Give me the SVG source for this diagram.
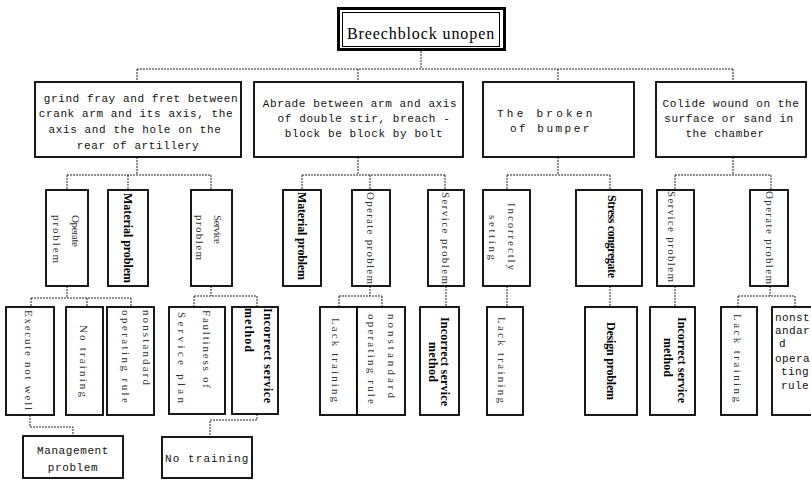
<svg xmlns="http://www.w3.org/2000/svg" width="811" height="481" viewBox="0 0 811 481">
<style>
rect.b{fill:#fff;stroke:#000;stroke-width:1.8}
.c{fill:none;stroke:#222;stroke-width:1;stroke-dasharray:2 1}
.m{font-family:"Liberation Mono","DejaVu Sans Mono",monospace;font-size:11px;letter-spacing:0.6px;fill:#111;text-anchor:middle}
.ms{font-family:"Liberation Mono","DejaVu Sans Mono",monospace;font-size:11px;letter-spacing:0.4px;fill:#111}
.v{font-family:"Liberation Serif","Times New Roman",serif;font-size:11px;fill:#333;dominant-baseline:central}
.vb{font-family:"Liberation Serif","Times New Roman",serif;font-size:12px;font-weight:bold;fill:#000;dominant-baseline:central}
.t{font-family:"Liberation Serif","Times New Roman",serif;font-size:16px;letter-spacing:0.9px;fill:#000;text-anchor:middle}
</style>
<rect width="811" height="481" fill="#fff"/>
<g id="connectors">
<path class="c" d="M421 51V69M137 69H733M137 69V82M358 69V82M558 69V82M733 69V82"/>
<path class="c" d="M137 157V175M67 175H211M67 175V190M128 175V190M211 175V190"/>
<path class="c" d="M358 157V175M302 175H445M302 175V190M370 175V190M445 175V190"/>
<path class="c" d="M558 157V175M507 175H610M507 175V190M610 175V190"/>
<path class="c" d="M733 157V175M675 175H771M675 175V190M771 175V190"/>
<path class="c" d="M67 286V298M31 298H131M31 298V307M87 298V307M131 298V307"/>
<path class="c" d="M211 286V296M194 296H257M194 296V307M257 296V307"/>
<path class="c" d="M370 286V296M339 296H382M339 296V307M382 296V307"/>
<path class="c" d="M446 286V307M507 286V307M610 286V307M675 286V307"/>
<path class="c" d="M770 286V296M738 296H795M738 296V307M795 296V307"/>
<path class="c" d="M30 415V427H73V436"/>
<path class="c" d="M257 414V420H210V437"/>
</g>
<g id="root">
<rect x="338.5" y="8.5" width="166" height="41" fill="#fff" stroke="#000" stroke-width="3"/>
<rect x="342.5" y="12.5" width="157" height="34" fill="none" stroke="#000" stroke-width="1"/>
<text class="t" x="421" y="38.5">Breechblock unopen</text>
</g>
<g id="n1">
<rect class="b" x="35" y="82" width="206" height="75"/>
<text class="m" x="141" y="101.5">grind fray and fret between</text>
<text class="m" x="136" y="117">crank arm and its axis, the</text>
<text class="m" x="135" y="132.5">axis and the hole on the</text>
<text class="m" x="138" y="148.5">rear of artillery</text>
</g>
<g id="n2">
<rect class="b" x="254" y="82" width="209" height="75"/>
<text class="m" x="360" y="107">Abrade between arm and axis</text>
<text class="m" x="364" y="122">of double stir, breach -</text>
<text class="m" x="364" y="137">block be block by bolt</text>
</g>
<g id="n3">
<rect class="b" x="483" y="82" width="151" height="75"/>
<text class="m" x="545" y="116.5" textLength="96">The broken</text>
<text class="m" x="550" y="131.5" textLength="80">of bumper</text>
</g>
<g id="n4">
<rect class="b" x="656" y="82" width="150" height="75"/>
<text class="m" x="731" y="107">Colide wound on the</text>
<text class="m" x="729" y="122">surface or sand in</text>
<text class="m" x="725" y="137">the chamber</text>
</g>
<g id="a1">
<rect class="b" x="46" y="190" width="42" height="96"/>
<text class="v" transform="translate(76,215) rotate(90)" textLength="32">Operate</text>
<text class="v" transform="translate(57,215) rotate(90)" textLength="48">problem</text>
</g>
<g id="a2">
<rect class="b" x="108" y="190" width="40" height="96"/>
<text class="vb" transform="translate(128,193) rotate(90)" textLength="90">Material problem</text>
</g>
<g id="a3">
<rect class="b" x="191" y="190" width="41" height="96"/>
<text class="v" transform="translate(218,215) rotate(90)" textLength="29">Service</text>
<text class="v" transform="translate(200,215) rotate(90)" textLength="45">problem</text>
</g>
<g id="b1">
<rect class="b" x="283" y="190" width="38" height="96"/>
<text class="vb" transform="translate(302,192) rotate(90)" textLength="88">Material problem</text>
</g>
<g id="b2">
<rect class="b" x="352" y="190" width="38" height="96"/>
<text class="v" transform="translate(371,192) rotate(90)" textLength="92">Operate problem</text>
</g>
<g id="b3">
<rect class="b" x="428" y="190" width="36" height="96"/>
<text class="v" transform="translate(446,192) rotate(90)" textLength="92">Service problem</text>
</g>
<g id="c1">
<rect class="b" x="483" y="190" width="47" height="96"/>
<text class="v" transform="translate(512,203) rotate(90)" textLength="67">Incorrectly</text>
<text class="v" transform="translate(493,215) rotate(90)" textLength="45">setting</text>
</g>
<g id="c2">
<rect class="b" x="576" y="190" width="66" height="96"/>
<text class="vb" transform="translate(612,195) rotate(90)" textLength="83">Stress congregate</text>
</g>
<g id="d1">
<rect class="b" x="657" y="190" width="37" height="96"/>
<text class="v" transform="translate(672,191) rotate(90)" textLength="91">Service problem</text>
</g>
<g id="d2">
<rect class="b" x="750" y="190" width="38" height="96"/>
<text class="v" transform="translate(770,191) rotate(90)" textLength="93">Operate problem</text>
</g>
<g id="e1">
<rect class="b" x="6" y="307" width="48" height="108"/>
<text class="v" transform="translate(29,310) rotate(90)" textLength="100">Execute not well</text>
</g>
<g id="e2">
<rect class="b" x="66" y="307" width="37" height="108"/>
<text class="v" transform="translate(84,325) rotate(90)" textLength="72">No training</text>
</g>
<g id="e3">
<rect class="b" x="107" y="307" width="47" height="108"/>
<text class="v" transform="translate(147,310) rotate(90)" textLength="75">nonstandard</text>
<text class="v" transform="translate(126,310) rotate(90)" textLength="93">operating rule</text>
</g>
<g id="f1">
<rect class="b" x="169" y="307" width="56" height="107"/>
<text class="v" transform="translate(207,310) rotate(90)" textLength="78">Faultiness of</text>
<text class="v" transform="translate(182,312) rotate(90)" textLength="91">Service plan</text>
</g>
<g id="f2">
<rect class="b" x="232" y="307" width="46" height="107"/>
<text class="vb" transform="translate(268,308) rotate(90)" textLength="95">Incorrect service</text>
<text class="vb" transform="translate(249,308) rotate(90)" textLength="44">method</text>
</g>
<g id="g1">
<rect class="b" x="320" y="307" width="37" height="108"/>
<text class="v" transform="translate(336,318) rotate(90)" textLength="84">Lack training</text>
</g>
<g id="g2">
<rect class="b" x="357" y="307" width="48" height="108"/>
<text class="v" transform="translate(392,314) rotate(90)" textLength="84">nonstandard</text>
<text class="v" transform="translate(372,314) rotate(90)" textLength="90">operating rule</text>
</g>
<g id="h1">
<rect class="b" x="420" y="307" width="39" height="108"/>
<text class="vb" transform="translate(445,317) rotate(90)" textLength="89">Incorrect service</text>
<text class="vb" transform="translate(433,342) rotate(90)" textLength="40">method</text>
</g>
<g id="i1">
<rect class="b" x="487" y="307" width="36" height="108"/>
<text class="v" transform="translate(502,317) rotate(90)" textLength="86">Lack training</text>
</g>
<g id="j1">
<rect class="b" x="585" y="307" width="52" height="108"/>
<text class="vb" transform="translate(611,322) rotate(90)" textLength="78">Design problem</text>
</g>
<g id="k1">
<rect class="b" x="650" y="307" width="45" height="108"/>
<text class="vb" transform="translate(682,317) rotate(90)" textLength="86">Incorrect service</text>
<text class="vb" transform="translate(668,338) rotate(90)" textLength="39">method</text>
</g>
<g id="l1">
<rect class="b" x="721" y="307" width="36" height="108"/>
<text class="v" transform="translate(738,314) rotate(90)" textLength="88">Lack training</text>
</g>
<g id="l2">
<rect class="b" x="772" y="307" width="60" height="108"/>
<text class="ms" x="775" y="320.5">nonst</text>
<text class="ms" x="775" y="333.5">andar</text>
<text class="ms" x="779" y="346.5">d</text>
<text class="ms" x="775" y="361.5">opera</text>
<text class="ms" x="781" y="374.5">ting</text>
<text class="ms" x="781" y="388.5">rule</text>
</g>
<g id="m1">
<rect class="b" x="23" y="436" width="100" height="42"/>
<text class="m" x="73" y="453.5">Management</text>
<text class="m" x="73" y="470.5">problem</text>
</g>
<g id="n5">
<rect class="b" x="162" y="437" width="90" height="41"/>
<text class="m" x="207" y="461.5" textLength="84">No training</text>
</g>
</svg>
